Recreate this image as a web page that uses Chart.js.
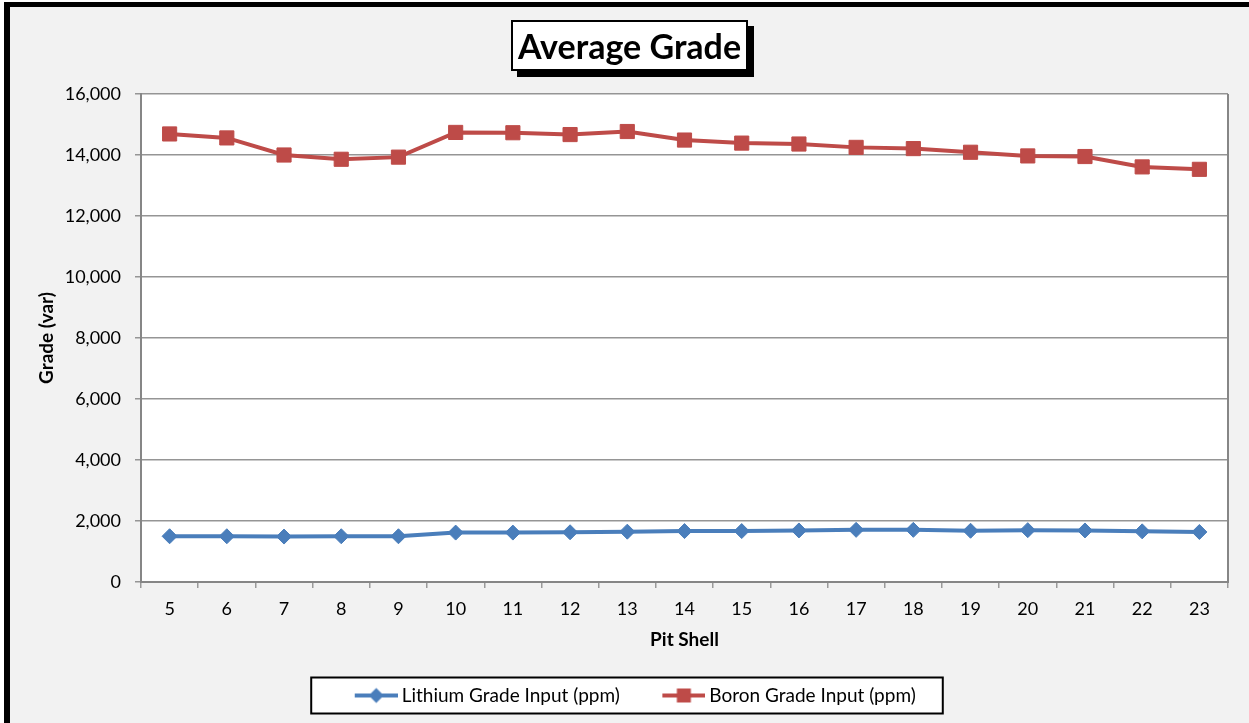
<!DOCTYPE html>
<html>
<head>
<meta charset="utf-8">
<title>Average Grade</title>
<script src="https://cdn.jsdelivr.net/npm/chart.js@4.4.1/dist/chart.umd.min.js"></script>
<style>
    html, body { margin: 0; padding: 0; background: #ffffff; overflow: hidden; }
    .frame {
        position: absolute; left: 4px; top: 2px; width: 1300px; height: 800px;
        border-left: 6px solid #000; border-top: 5px solid #000;
        background: #f2f2f2;
    }
    #chart { position: absolute; left: 0; top: 0; }
    .chart-title {
        position: absolute; left: 511px; top: 20px; width: 237px; height: 51px;
        box-sizing: border-box; border: 2px solid #000; background: #fff;
        box-shadow: 6px 6px 0 #000;
        font-family: Lato, "Open Sans", sans-serif; font-weight: bold; font-size: 34px;
        display: flex; align-items: center; justify-content: center; color: #000;
    }
</style>
</head>
<body>
<div class="frame"></div>
<canvas id="chart" width="1249" height="723"></canvas>
<div class="chart-title">Average Grade</div>
<script>
var pitShells = ['5', '6', '7', '8', '9', '10', '11', '12', '13', '14', '15', '16', '17', '18', '19', '20', '21', '22', '23'];
var lithiumGrade = [1500, 1500, 1490, 1500, 1500, 1620, 1620, 1630, 1650, 1670, 1670, 1690, 1710, 1710, 1680, 1700, 1690, 1660, 1640];
var boronGrade = [14690, 14560, 14000, 13860, 13930, 14740, 14730, 14670, 14770, 14490, 14390, 14360, 14250, 14210, 14090, 13970, 13950, 13610, 13530];
var gradeTicks = [0, 2000, 4000, 6000, 8000, 10000, 12000, 14000, 16000];

var seriesNames = ['Lithium Grade Input (ppm)', 'Boron Grade Input (ppm)'];
var blue = '#4a7ebb';
var red = '#be4b48';
var fontFamily = 'Lato, "Open Sans", sans-serif';

// legend icon = line with the marker in the middle, like excel draws it
function legendIcon(color, marker) {
    var c = document.createElement('canvas');
    c.width = 81;
    c.height = 20;
    var ctx = c.getContext('2d');
    ctx.strokeStyle = color;
    ctx.fillStyle = color;
    ctx.lineWidth = 4;
    ctx.beginPath();
    ctx.moveTo(38, 10);
    ctx.lineTo(81, 10);
    ctx.stroke();
    ctx.beginPath();
    if (marker === 'diamond') {
        ctx.moveTo(59.5, 2.5);
        ctx.lineTo(67, 10);
        ctx.lineTo(59.5, 17.5);
        ctx.lineTo(52, 10);
        ctx.closePath();
    } else {
        ctx.rect(52.5, 3, 14, 14);
    }
    ctx.fill();
    return c;
}

var icons = [legendIcon(blue, 'diamond'), legendIcon(red, 'square')];

var framePlugin = {
    id: 'framePlugin',
    beforeDraw: function (chart) {
        var ctx = chart.ctx;
        var area = chart.chartArea;
        ctx.save();
        ctx.fillStyle = '#ffffff';
        ctx.fillRect(area.left, area.top, area.right - area.left, area.bottom - area.top);

        var boxes = chart.legend.legendHitBoxes;
        if (boxes && boxes.length) {
            var first = boxes[0];
            var last = boxes[boxes.length - 1];
            var mid = first.top + first.height / 2;
            var x0 = first.left - 11;
            var x1 = last.left + last.width + 27;
            ctx.fillRect(x0, mid - 18, x1 - x0, 36);
            ctx.strokeStyle = '#000';
            ctx.lineWidth = 2;
            ctx.strokeRect(x0, mid - 18, x1 - x0, 36);
        }
        ctx.restore();
    },
    afterDraw: function (chart) {
        var ctx = chart.ctx;
        var area = chart.chartArea;
        ctx.save();
        ctx.strokeStyle = '#868686';
        ctx.lineWidth = 2;
        ctx.beginPath();
        ctx.moveTo(area.right, area.top);
        ctx.lineTo(area.right, area.bottom + 1);
        ctx.stroke();
        ctx.restore();
    }
};

var config = {
    type: 'line',
    data: {
        labels: pitShells,
        datasets: [{
            label: seriesNames[0],
            data: lithiumGrade,
            borderColor: blue,
            backgroundColor: blue,
            borderWidth: 4,
            pointStyle: 'rectRot',
            pointRadius: 7.5,
            pointBorderWidth: 1,
            tension: 0
        }, {
            label: seriesNames[1],
            data: boronGrade,
            borderColor: red,
            backgroundColor: red,
            borderWidth: 4,
            pointStyle: 'rect',
            pointRadius: 10,
            pointBorderWidth: 1,
            tension: 0
        }]
    },
    options: {
        responsive: false,
        animation: false,
        devicePixelRatio: 1,
        layout: {
            padding: { left: 10, right: 21, top: 94, bottom: 8 }
        },
        plugins: {
            title: { display: false },
            tooltip: { enabled: false },
            legend: {
                position: 'bottom',
                labels: {
                    usePointStyle: true,
                    pointStyleWidth: 70,
                    padding: 10,
                    color: '#000',
                    font: { family: fontFamily, size: 19 },
                    generateLabels: function (chart) {
                        return chart.data.datasets.map(function (ds, i) {
                            return {
                                text: ds.label,
                                pointStyle: icons[i],
                                fillStyle: ds.backgroundColor,
                                strokeStyle: ds.borderColor,
                                lineWidth: 0,
                                hidden: false,
                                datasetIndex: i,
                                fontColor: '#000'
                            };
                        });
                    }
                }
            }
        },
        scales: {
            x: {
                offset: true,
                grid: {
                    offset: true,
                    drawOnChartArea: false,
                    tickLength: 6,
                    color: '#9a9a9a',
                    lineWidth: 1.5
                },
                border: { color: '#868686', width: 2 },
                ticks: {
                    color: '#000',
                    padding: 10,
                    maxRotation: 0,
                    font: { family: fontFamily, size: 18 }
                },
                title: {
                    display: true,
                    text: 'Pit Shell',
                    color: '#000',
                    padding: { top: 0, bottom: 25 },
                    font: { family: fontFamily, size: 19, weight: 'bold' }
                },
                afterFit: function (scale) {
                    scale.height = 94;
                }
            },
            y: {
                min: 0,
                max: 16000,
                afterBuildTicks: function (scale) {
                    scale.ticks = gradeTicks.map(function (v) { return { value: v }; });
                },
                grid: {
                    color: '#959595',
                    lineWidth: 1.5,
                    tickLength: 6
                },
                border: { color: '#868686', width: 2 },
                ticks: {
                    color: '#000',
                    padding: 14,
                    font: { family: fontFamily, size: 18 },
                    callback: function (value) {
                        return value.toLocaleString('en-US');
                    }
                },
                title: {
                    display: true,
                    text: 'Grade (var)',
                    color: '#000',
                    padding: { top: 25, bottom: 0 },
                    font: { family: fontFamily, size: 19, weight: 'bold' }
                },
                afterFit: function (scale) {
                    scale.width = 131;
                }
            }
        }
    },
    plugins: [framePlugin]
};

var myChart = new Chart(document.getElementById('chart'), config);
</script>
</body>
</html>
